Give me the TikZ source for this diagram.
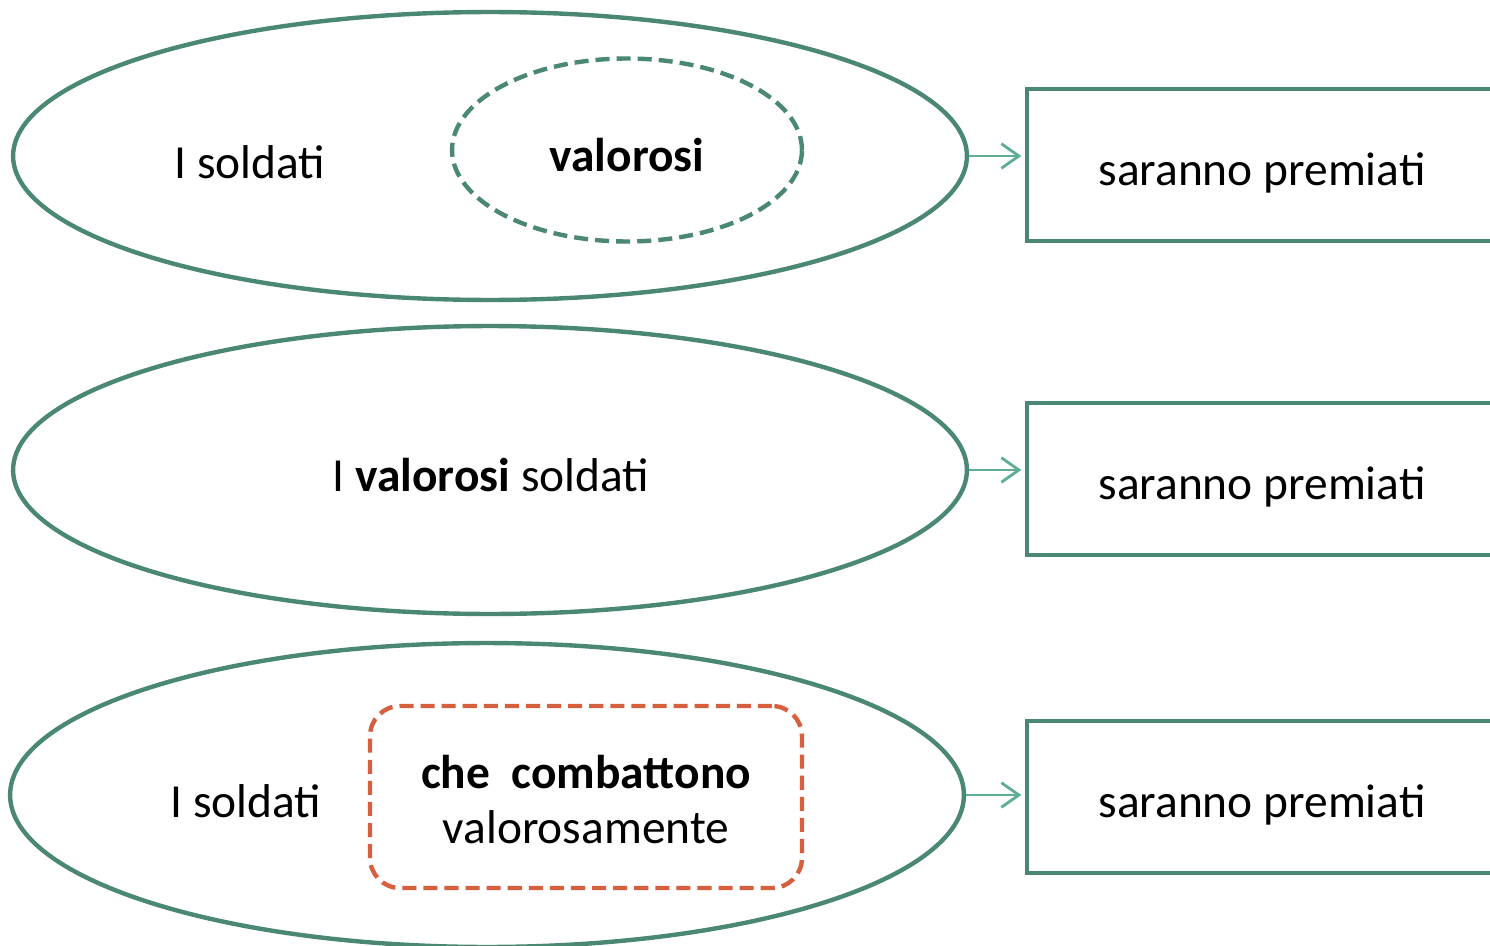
\documentclass[tikz,border=0pt]{standalone}
\usepackage{fontspec}
\setmainfont{Carlito}
\usetikzlibrary{shapes.geometric,positioning,calc,arrows.meta}
\definecolor{rahmen}{HTML}{4A8872}
\definecolor{pfeil}{HTML}{5FAE92}
\definecolor{orange}{HTML}{D65F3E}
\tikzset{
  aussen/.style={ellipse,draw=rahmen,line width=2.5pt,minimum width=19.08cm,minimum height=5.76cm,inner sep=0pt},
  kasten/.style={rectangle,draw=rahmen,line width=2.5pt,minimum width=9.4cm,minimum height=3.04cm,inner sep=0pt},
  strich/.style={line width=2.5pt,dash pattern=on 8pt off 4pt},
  txt/.style={font=\fontsize{27}{31}\selectfont,inner sep=0pt},
  zu/.style={-{Straight Barb[length=10pt,width=14pt,line width=1.6pt]},draw=pfeil,line width=1.6pt,shorten >=2pt}
}
\begin{document}
\begin{tikzpicture}[x=0.02cm,y=-0.02cm]
\clip (0,0) rectangle (1490,946);
\fill[white] (0,0) rectangle (1490,946);
% erste Zeile
\node[aussen] (e1) at (490,156) {};
\node[ellipse,draw=rahmen,strich,minimum width=7cm,minimum height=3.66cm,inner sep=0pt] (v1) at (627,150) {};
\node[txt] (v1t) at (627,155) {\textbf{valorosi}};
\node[txt] (s1) at (250,162) {I soldati};
\node[kasten] (k1) at (1262,165) {};
\node[txt,yshift=-4.5] (k1t) at (k1) {saranno premiati};
\draw[zu] (e1.east) -- (e1.east -| k1.west);
% zweite Zeile
\node[aussen] (e2) at (490,470) {};
\node[txt] (e2t) at (491,475) {I \textbf{valorosi} soldati};
\node[kasten] (k2) at (1262,479) {};
\node[txt,yshift=-4.5] (k2t) at (k2) {saranno premiati};
\draw[zu] (e2.east) -- (e2.east -| k2.west);
% dritte Zeile
\node[aussen,minimum height=6.08cm] (e3) at (487,795) {};
\node[rectangle,rounded corners=0.6cm,draw=orange,strich,minimum width=8.64cm,minimum height=3.64cm] (r3) at (586,797) {};
\node[txt,align=center,yshift=-1.5] (r3t) at (r3) {\textbf{che\ \ combattono}\\valorosamente};
\node[txt] (s3) at (246,801) {I soldati};
\node[kasten] (k3) at (1262,797) {};
\node[txt,yshift=-4.5] (k3t) at (k3) {saranno premiati};
\draw[zu] (e3.east) -- (e3.east -| k3.west);
\end{tikzpicture}
\end{document}
